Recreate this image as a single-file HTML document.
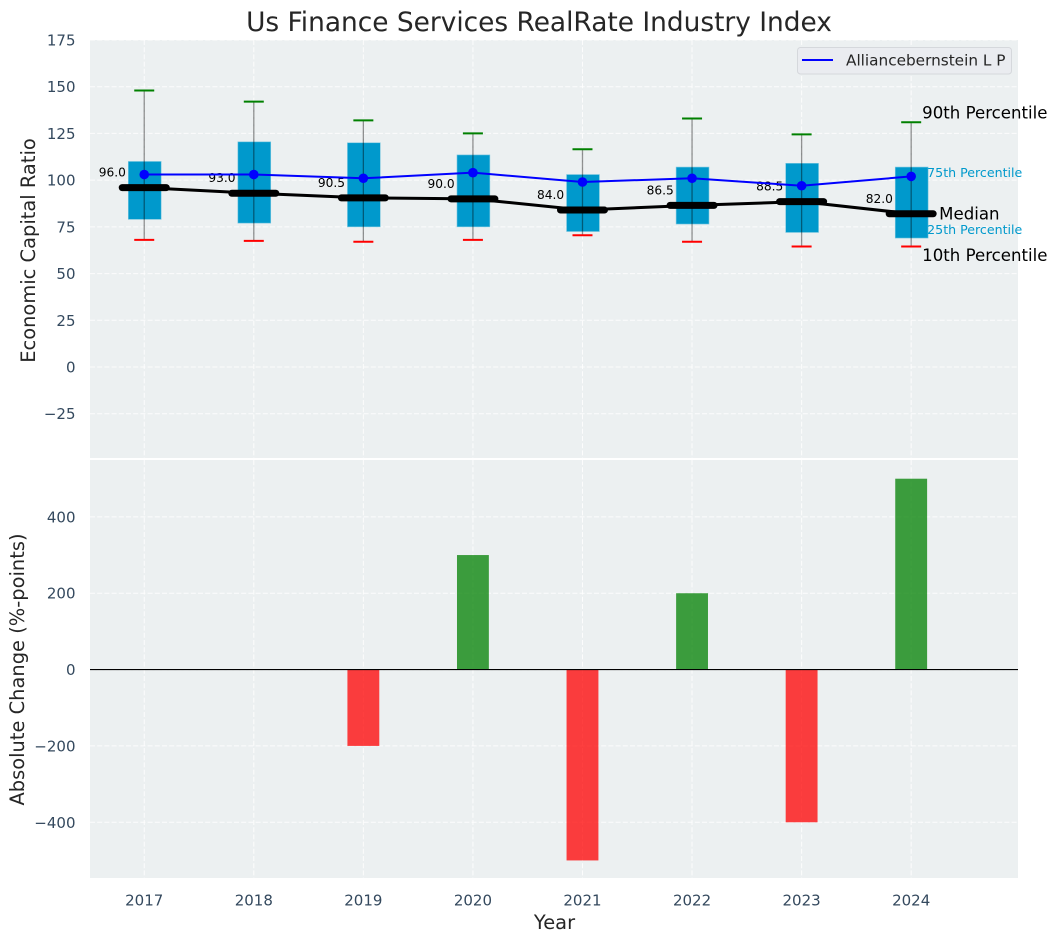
<!DOCTYPE html>
<html>
<head>
<meta charset="utf-8">
<title>Us Finance Services RealRate Industry Index</title>
<style>
html,body{margin:0;padding:0;background:#fff;width:1057px;height:942px;overflow:hidden}
svg{display:block;font-family:"DejaVu Sans","Liberation Sans",sans-serif}
</style>
</head>
<body>
<svg id="chart" width="1057" height="942" viewBox="0 0 1057 942" xmlns="http://www.w3.org/2000/svg"></svg>
<script>
const years = [2017, 2018, 2019, 2020, 2021, 2022, 2023, 2024];
const p90 = [148, 142, 132, 125, 116.5, 133, 124.5, 131];
const p75 = [110, 120.5, 120, 113.5, 103, 107, 109, 107];
const median = [96, 93, 90.5, 90, 84, 86.5, 88.5, 82];
const p25 = [79, 77, 75, 75, 72.5, 76.5, 72, 69];
const p10 = [68, 67.5, 67, 68, 70.5, 67, 64.5, 64.5];
const company = [103, 103, 101, 104, 99, 101, 97, 102];
const changes = [0, 0, -200, 300, -500, 200, -400, 500];
const topTicks = [175, 150, 125, 100, 75, 50, 25, 0, -25];
const bottomTicks = [400, 200, 0, -200, -400];
const seriesName = 'Alliancebernstein L P';

const svg = document.getElementById('chart');
const NS = 'http://www.w3.org/2000/svg';
const L = 90, R = 1018, T1 = 40, B1 = 458, T2 = 460, B2 = 878;
const xMin = 2016.505, xMax = 2024.975;
const y1Min = -48.7, y1Max = 175;
const y2Min = -546, y2Max = 549;
const x = v => L + (v - xMin) / (xMax - xMin) * (R - L);
const y1 = v => B1 - (v - y1Min) / (y1Max - y1Min) * (B1 - T1);
const y2 = v => B2 - (v - y2Min) / (y2Max - y2Min) * (B2 - T2);

function mk(tag, attrs, text) {
  const el = document.createElementNS(NS, tag);
  for (const k in attrs) el.setAttribute(k, attrs[k]);
  if (text !== undefined) el.textContent = text;
  svg.appendChild(el);
  return el;
}
const INK = '#262626', TICK = '#34495e', GRID = '#ffffff';
const TICK_SIZE = 15, LEGEND_SIZE = 15.28, AXIS_SIZE = 19.44;
const minus = v => String(v).replace('-', '\u2212');
let el;

el = mk('text', {x: 539, y: 31, 'font-size': 26.4, fill: INK, 'text-anchor': 'middle'}, 'Us Finance Services RealRate Industry Index');



el = mk('rect', {x: L, y: T1, width: R - L, height: B1 - T1, fill: '#ecf0f1'});



el = mk('rect', {x: L, y: T2, width: R - L, height: B2 - T2, fill: '#ecf0f1'});



/* grid + ticks, top */
topTicks.forEach(t => {
  const g = mk('line', {x1: L, x2: R, y1: y1(t), y2: y1(t), stroke: GRID, 'stroke-width': 1, 'stroke-dasharray': '5,2.2', opacity: .85});
  
  
  const lb = mk('text', {x: 75.5, y: y1(t) + 5.5, 'font-size': TICK_SIZE, fill: TICK, 'text-anchor': 'end'}, minus(t));
  
  
});
/* grid + ticks, bottom */
bottomTicks.forEach(t => {
  const g = mk('line', {x1: L, x2: R, y1: y2(t), y2: y2(t), stroke: GRID, 'stroke-width': 1, 'stroke-dasharray': '5,2.2', opacity: .85});
  
  
  const lb = mk('text', {x: 75.5, y: y2(t) + 5.5, 'font-size': TICK_SIZE, fill: TICK, 'text-anchor': 'end'}, minus(t));
  
  
});
/* vertical grid + x labels */
years.forEach(yr => {
  const a = mk('line', {x1: x(yr), x2: x(yr), y1: T1, y2: B1, stroke: GRID, 'stroke-width': 1, 'stroke-dasharray': '5,2.2', opacity: .85});
  
  
  const b = mk('line', {x1: x(yr), x2: x(yr), y1: T2, y2: B2, stroke: GRID, 'stroke-width': 1, 'stroke-dasharray': '5,2.2', opacity: .85});
  
  
  const lb = mk('text', {x: x(yr), y: 905.5, 'font-size': TICK_SIZE, fill: TICK, 'text-anchor': 'middle'}, String(yr));
  
  
});

/* boxes */
const boxW = 0.3;
years.forEach((yr, i) => {
  const top = y1(p75[i]), bot = y1(p25[i]);
  const w = boxW * (x(1) - x(0));
  const b = mk('rect', {x: x(yr) - w / 2 + 0.5, y: top, width: w, height: bot - top, fill: '#0099cc', stroke: '#7cc8e0', 'stroke-width': 0.6});
  
  
});
/* whiskers */
years.forEach((yr, i) => {
  const w = mk('line', {x1: x(yr), x2: x(yr), y1: y1(p90[i]), y2: y1(p10[i]), stroke: '#000', 'stroke-opacity': .42, 'stroke-width': 1.3});
  
  
  const c1 = mk('line', {x1: x(yr) - 10, x2: x(yr) + 10, y1: y1(p90[i]), y2: y1(p90[i]), stroke: '#008000', 'stroke-width': 2});
  
  
  const c2 = mk('line', {x1: x(yr) - 10, x2: x(yr) + 10, y1: y1(p10[i]), y2: y1(p10[i]), stroke: '#ff0000', 'stroke-width': 2});
  
  
});
/* median line */
el = mk('polyline', {points: years.map((yr, i) => x(yr) + ',' + y1(median[i])).join(' '), fill: 'none', stroke: '#000', 'stroke-width': 3});


years.forEach((yr, i) => {
  const m = mk('line', {x1: x(yr) - 22, x2: x(yr) + 22, y1: y1(median[i]), y2: y1(median[i]), stroke: '#000', 'stroke-width': 7, 'stroke-linecap': 'round'});
  
  
  const t = mk('text', {x: x(yr) - 18.3, y: y1(median[i]) - 11, 'font-size': 12.2, fill: '#000', 'text-anchor': 'end'}, median[i].toFixed(1));
  
  
});
/* company line */
el = mk('polyline', {points: years.map((yr, i) => x(yr) + ',' + y1(company[i])).join(' '), fill: 'none', stroke: '#0000ff', 'stroke-width': 2});


years.forEach((yr, i) => {
  const d = mk('circle', {cx: x(yr), cy: y1(company[i]), r: 4.8, fill: '#0000ff'});
  
  
});

/* percentile annotations */
const last = years.length - 1;
el = mk('text', {x: x(years[last]) + 11, y: y1(p90[last]) - 3.5, 'font-size': 16.6, fill: '#000'}, '90th Percentile');


el = mk('text', {x: x(years[last]) + 16, y: y1(p75[last]) + 10, 'font-size': 12.6, fill: '#0099cc'}, '75th Percentile');


el = mk('text', {x: x(years[last]) + 28, y: y1(median[last]) + 5.5, 'font-size': 16.6, fill: '#000'}, 'Median');


el = mk('text', {x: x(years[last]) + 16, y: y1(p25[last]) - 4, 'font-size': 12.6, fill: '#0099cc'}, '25th Percentile');


el = mk('text', {x: x(years[last]) + 11, y: y1(p10[last]) + 14.5, 'font-size': 16.6, fill: '#000'}, '10th Percentile');



/* legend */
el = mk('rect', {x: 797.5, y: 47.5, width: 214, height: 26.5, rx: 3, fill: '#eaecf0', stroke: '#d5d8dc', 'stroke-width': 1});


el = mk('line', {x1: 802, x2: 833, y1: 60, y2: 60, stroke: '#0000ff', 'stroke-width': 2});


el = mk('text', {x: 846, y: 65.5, 'font-size': LEGEND_SIZE, fill: INK}, seriesName);



/* change bars */
years.forEach((yr, i) => {
  if (changes[i] === 0) return;
  const v = changes[i];
  const w = boxW * (x(1) - x(0)) - 1;
  const b = mk('rect', {x: x(yr) - w / 2, y: Math.min(y2(v), y2(0)), width: w, height: Math.abs(y2(v) - y2(0)), fill: v > 0 ? '#008000' : '#ff0000', 'fill-opacity': .75});
  
  
});
el = mk('line', {x1: L, x2: R, y1: y2(0), y2: y2(0), stroke: '#000', 'stroke-width': 1.2});



/* axis titles */
el = mk('text', {x: 0, y: 0, 'font-size': AXIS_SIZE, fill: INK, 'text-anchor': 'middle', transform: 'translate(35 250.5) rotate(-90)'}, 'Economic Capital Ratio');


el = mk('text', {x: 0, y: 0, 'font-size': AXIS_SIZE, fill: INK, 'text-anchor': 'middle', transform: 'translate(24 669.5) rotate(-90)'}, 'Absolute Change (%-points)');


el = mk('text', {x: 554.5, y: 929, 'font-size': AXIS_SIZE, fill: INK, 'text-anchor': 'middle'}, 'Year');


</script>
</body>
</html>
